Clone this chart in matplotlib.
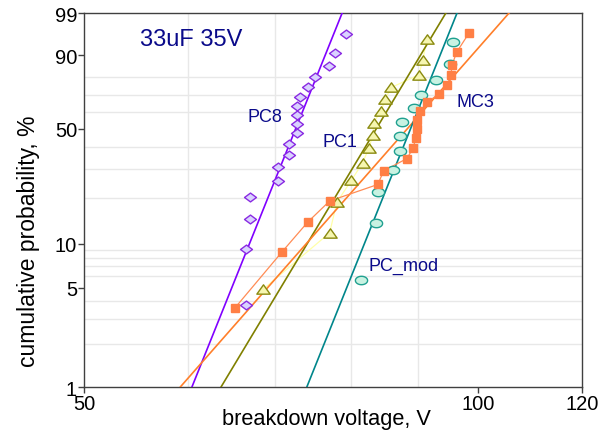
import numpy as np
import matplotlib
matplotlib.use("Agg")
import matplotlib.pyplot as plt
from matplotlib.path import Path
from matplotlib.ticker import FixedLocator, NullFormatter

plt.rcParams['font.family'] = ['Liberation Sans', 'DejaVu Sans']

# breakdown voltages (V) and cumulative probability (%)
pc8_v = [66.5, 66.5, 66.9, 66.9, 70.3, 70.3, 71.7, 71.7, 72.7, 72.7, 72.7, 72.7,
         73.1, 74.1, 75.0, 76.9, 77.7, 79.3]
pc8_p = [3.80, 9.24, 14.67, 20.11, 25.54, 30.98, 36.41, 41.85, 47.28, 52.72, 58.15,
         63.59, 69.02, 74.46, 79.89, 85.33, 90.76, 96.20]

pc1_v = [68.5, 77.0, 78.0, 80.0, 81.6, 82.5, 83.1, 83.2, 84.3, 84.9, 85.8, 90.1, 90.7, 91.4]
pc1_p = [4.86, 11.81, 18.75, 25.69, 32.64, 39.58, 46.53, 53.47, 60.42, 67.36, 74.31,
         81.25, 88.19, 95.14]

mc3_v = [65.2, 70.8, 74.1, 77.0, 83.8, 84.7, 88.2, 89.2, 89.6, 89.8, 89.8, 90.3, 91.4,
         93.3, 94.7, 95.3, 95.5, 96.3, 98.4]
mc3_p = [3.61, 8.76, 13.92, 19.07, 24.23, 29.38, 34.54, 39.69, 44.85, 50.00, 55.15,
         60.31, 65.46, 70.62, 75.77, 80.93, 86.08, 91.24, 96.39]

pcmod_v = [81.4, 83.5, 83.8, 86.1, 87.1, 87.1, 87.4, 89.3, 90.4, 92.8, 95.2, 95.7]
pcmod_p = [5.65, 13.71, 21.77, 29.84, 37.90, 45.97, 54.03, 62.10, 70.16, 78.23, 86.29, 94.35]

# weibull fits: (shape, scale V)
pc8_fit = (23.2, 73.7)
pc1_fit = (15.5, 85.6)
mc3_fit = (10.6, 91.4)
pcmod_fit = (23.2, 90.2)

x_ticks = [50, 100, 120]
x_grid = [60, 70, 80, 90, 100]
y_ticks = [1, 5, 10, 50, 90, 99]
y_grid = [2, 3, 4, 5, 6, 7, 8, 9, 10, 20, 30, 40, 50, 60, 70, 80, 90]


def wb_fwd(p):
    p = np.clip(np.asarray(p, dtype=float), 1e-9, 100 - 1e-9)
    return np.log(-np.log(1 - p / 100.0))


def wb_inv(y):
    return 100.0 * (1 - np.exp(-np.exp(y)))


def fit_curve(shape, scale):
    v = np.geomspace(45, 130, 300)
    return v, 100.0 * (1 - np.exp(-(v / scale) ** shape))


def closed(verts):
    verts = list(verts) + [verts[0]]
    codes = [Path.MOVETO] + [Path.LINETO] * (len(verts) - 2) + [Path.CLOSEPOLY]
    return Path(verts, codes)


diamond = closed([(0, 1), (1.35, 0), (0, -1), (-1.35, 0)])
triangle = closed([(-1, -0.7), (1, -0.7), (0, 0.7)])
t = np.linspace(0, 2 * np.pi, 41)[:-1]
ellipse = closed(list(zip(1.45 * np.cos(t), np.sin(t))))

fig = plt.figure(figsize=(6.15, 4.35), dpi=100)
ax = fig.add_axes([0.1366, 0.108, 0.8097, 0.8598])
ax.set_xscale('log')
ax.set_yscale('function', functions=(wb_fwd, wb_inv))

navy = '#0a0a8a'

# PC8
ax.plot(*fit_curve(*pc8_fit), color='#8000ff', lw=1.2, zorder=3)
ax.plot(pc8_v, pc8_p, ls='none', marker=diamond, ms=8.6, mfc='#d9d2ff',
        mec='#8a2be2', mew=1.0, zorder=5)

# PC1
ax.plot(*fit_curve(*pc1_fit), color='#808000', lw=1.2, zorder=3)
ax.plot(pc1_v, pc1_p, color='#ffffa8', lw=0.9, zorder=2)
ax.plot(pc1_v, pc1_p, ls='none', marker=triangle, ms=9.6, mfc='#f6f6b0',
        mec='#8a8a10', mew=1.0, zorder=5)

# MC3
ax.plot(*fit_curve(*mc3_fit), color='#ff7f2a', lw=1.2, zorder=3)
ax.plot(mc3_v, mc3_p, color='#ff8c55', lw=0.9, zorder=4)
ax.plot(mc3_v, mc3_p, ls='none', marker='s', ms=6.4, mfc='#ff7f45',
        mec='#ff7f45', zorder=6)

# PC_mod
ax.plot(*fit_curve(*pcmod_fit), color='#00868b', lw=1.2, zorder=3)
ax.plot(pcmod_v, pcmod_p, ls='none', marker=ellipse, ms=8.8, mfc='#c8f2e2',
        mec='#20a090', mew=1.0, zorder=5)

ax.set_xlim(50, 120)
ax.set_ylim(1, 99)

ax.xaxis.set_major_locator(FixedLocator(x_ticks))
ax.xaxis.set_minor_locator(FixedLocator(x_grid))
ax.xaxis.set_minor_formatter(NullFormatter())
ax.set_xticklabels([str(v) for v in x_ticks])
ax.yaxis.set_major_locator(FixedLocator(y_ticks))
ax.yaxis.set_minor_locator(FixedLocator(y_grid))
ax.yaxis.set_minor_formatter(NullFormatter())
ax.set_yticklabels([str(v) for v in y_ticks])

ax.grid(which='minor', color='#e8e8e8', lw=1.0, zorder=0)
ax.set_axisbelow(True)
ax.tick_params(which='minor', length=0)
ax.tick_params(which='major', length=4, width=1, color='#404040',
               labelsize=14.5, pad=1)
for s in ax.spines.values():
    s.set_color('#404040')
    s.set_linewidth(1.0)

ax.set_xlabel('breakdown voltage, V', fontsize=15.7)
ax.xaxis.set_label_coords(0.486, -0.056)
ax.set_ylabel('cumulative probability, %', fontsize=16.5)
ax.yaxis.set_label_coords(-0.088, 0.393)

ax.text(55.2, 95.1, '33uF 35V', color=navy, fontsize=17, va='center')
ax.text(66.7, 57.3, 'PC8', color=navy, fontsize=13, va='center')
ax.text(76.1, 43.2, 'PC1', color=navy, fontsize=13, va='center')
ax.text(96.3, 66.3, 'MC3', color=navy, fontsize=13, va='center')
ax.text(82.4, 7.1, 'PC_mod', color=navy, fontsize=13, va='center')

fig.savefig('out.png', dpi=100)
